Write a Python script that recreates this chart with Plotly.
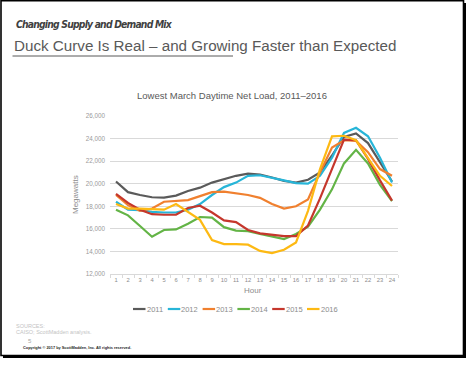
import plotly.graph_objects as go

hours = list(range(1, 25))
hour_labels = [str(h) for h in hours]
years = ["2011", "2012", "2013", "2014", "2015", "2016"]
colors = ["#5a5a5a", "#27b5d8", "#f0802f", "#63b446", "#c5372c", "#fdb913"]

load_2011 = [20200, 19250, 19000, 18800, 18770, 18950, 19350, 19650, 20100, 20400, 20700, 20900,
             20800, 20550, 20250, 20100, 20350, 21000, 22500, 24150, 24450, 23600, 21900, 20200]
load_2012 = [18400, 17700, 17650, 17500, 17450, 17450, 17700, 18200, 19000, 19700, 20100, 20700,
             20750, 20550, 20300, 20050, 20000, 20700, 22300, 24500, 24950, 24200, 22300, 20100]
load_2013 = [19000, 18100, 17600, 17800, 18400, 18450, 18550, 18900, 19250, 19300, 19150, 19000,
             18750, 18200, 17800, 18000, 18600, 21000, 23200, 23850, 23800, 22800, 21300, 20700]
load_2014 = [17700, 17200, 16250, 15300, 15900, 15950, 16450, 17050, 17000, 16150, 15850, 15800,
             15550, 15350, 15100, 15550, 16200, 17700, 19500, 21800, 23000, 21800, 19900, 18450]
load_2015 = [19100, 18300, 17700, 17300, 17250, 17250, 17850, 18050, 17450, 16750, 16600, 15900,
             15600, 15450, 15350, 15350, 16300, 18700, 21300, 23900, 23850, 22200, 20300, 18500]
load_2016 = [18200, 17800, 17800, 17750, 17700, 18200, 17500, 16800, 15000, 14650, 14650, 14600,
             14050, 13850, 14150, 14800, 17600, 21300, 24200, 24250, 23850, 22300, 20700, 19800]
series = [load_2011, load_2012, load_2013, load_2014, load_2015, load_2016]

y_ticks = [12000, 14000, 16000, 18000, 20000, 22000, 24000, 26000]
y_tick_labels = ["12,000", "14,000", "16,000", "18,000", "20,000", "22,000", "24,000", "26,000"]

W, H = 466, 376
L, R, T, B = 110, 68, 116, 102
PW, PH = W - L - R, H - T - B


def X(px):
    return (px - L) / PW


def Y(py):
    return (H - B - py) / PH


FONT = "Liberation Sans, Arial, sans-serif"

fig = go.Figure()
for name, vals, col in zip(years, series, colors):
    fig.add_trace(go.Scatter(x=hours, y=vals, mode="lines", name=name,
                             line=dict(color=col, width=2.2), showlegend=False))


def ann(text, px, py, size, color, xanchor="left", family=FONT, **kw):
    return dict(text=text, x=X(px), y=Y(py), xref="paper", yref="paper", showarrow=False,
                xanchor=xanchor, yanchor="middle", borderpad=0,
                font=dict(family=family, size=size, color=color), **kw)


annotations = [
    ann('<span style="font-stretch:condensed;letter-spacing:-0.8px"><i><b>Changing Supply and Demand Mix</b></i></span>',
        15, 23.5, 10.3, "#404040",
        family="Liberation Sans Narrow, DejaVu Sans Condensed, Liberation Sans, sans-serif"),
    ann("Duck Curve Is Real \u2013 and Growing Faster than Expected", 13, 45.5, 15.2, "#595959"),
    ann("Lowest March Daytime Net Load, 2011\u20132016", 232, 95, 9.5, "#595959", xanchor="center"),
    ann("Megawatts", 75, 195, 8, "#8c8c8c", xanchor="center", textangle=-90),
    ann("Hour", 253, 290, 8, "#8c8c8c", xanchor="center"),
    ann("SOURCES:", 15, 325.7, 5.5, "#c4c4c4"),
    ann("CAISO; ScottMadden analysis.", 15, 332.3, 5.5, "#c4c4c4"),
    ann("5", 29.5, 340.7, 6, "#a6a6a6", xanchor="center"),
    ann("<b>Copyright \u00a9 2017 by ScottMadden, Inc. All rights reserved.</b>", 22, 347.7, 3.9, "#262626"),
]

shapes = [
    dict(type="line", xref="paper", yref="paper", x0=X(12.5), x1=X(233), y0=Y(56), y1=Y(56),
         line=dict(color="#595959", width=1)),
    dict(type="rect", xref="paper", yref="paper", x0=X(1), x1=X(463.5), y0=Y(0.7), y1=Y(355.5),
         line=dict(color="#000000", width=1.6)),
    dict(type="line", xref="paper", yref="paper", x0=X(465), x1=X(465), y0=Y(3), y1=Y(357.5),
         line=dict(color="#000000", width=2)),
    dict(type="line", xref="paper", yref="paper", x0=X(3), x1=X(466), y0=Y(357), y1=Y(357),
         line=dict(color="#000000", width=2)),
]

for i, (name, col) in enumerate(zip(years, colors)):
    x0 = 133 + 34.8 * i
    shapes.append(dict(type="line", xref="paper", yref="paper", x0=X(x0), x1=X(x0 + 12.5),
                       y0=Y(309), y1=Y(309), line=dict(color=col, width=2.2)))
    annotations.append(ann(name, x0 + 12.5, 309, 7.5, "#8c8c8c"))

fig.update_layout(
    width=W, height=H, margin=dict(l=L, r=R, t=T, b=B, pad=0),
    paper_bgcolor="white", plot_bgcolor="white",
    annotations=annotations, shapes=shapes, showlegend=False,
    xaxis=dict(range=[0.5, 24.5], tickmode="array", tickvals=hours, ticktext=hour_labels,
               showgrid=False, zeroline=False, showline=True, linecolor="#d9d9d9", linewidth=1,
               ticks="", tickfont=dict(family=FONT, size=5.8, color="#8c8c8c"),
               minor=dict(tick0=0.5, dtick=1, ticks="outside", ticklen=3, tickcolor="#d9d9d9",
                          showgrid=False), fixedrange=True),
    yaxis=dict(range=[12000, 26000], tickmode="array", tickvals=y_ticks, ticktext=y_tick_labels,
               showgrid=True, gridcolor="#d9d9d9", gridwidth=1, zeroline=False, showline=False,
               ticks="", ticklabelstandoff=4, tickfont=dict(family=FONT, size=6.3, color="#9a9a9a"),
               fixedrange=True),
)

fig.write_html("out.html", config={"displayModeBar": False},
               post_script="document.body.style.margin='0';document.body.style.overflow='hidden';")
